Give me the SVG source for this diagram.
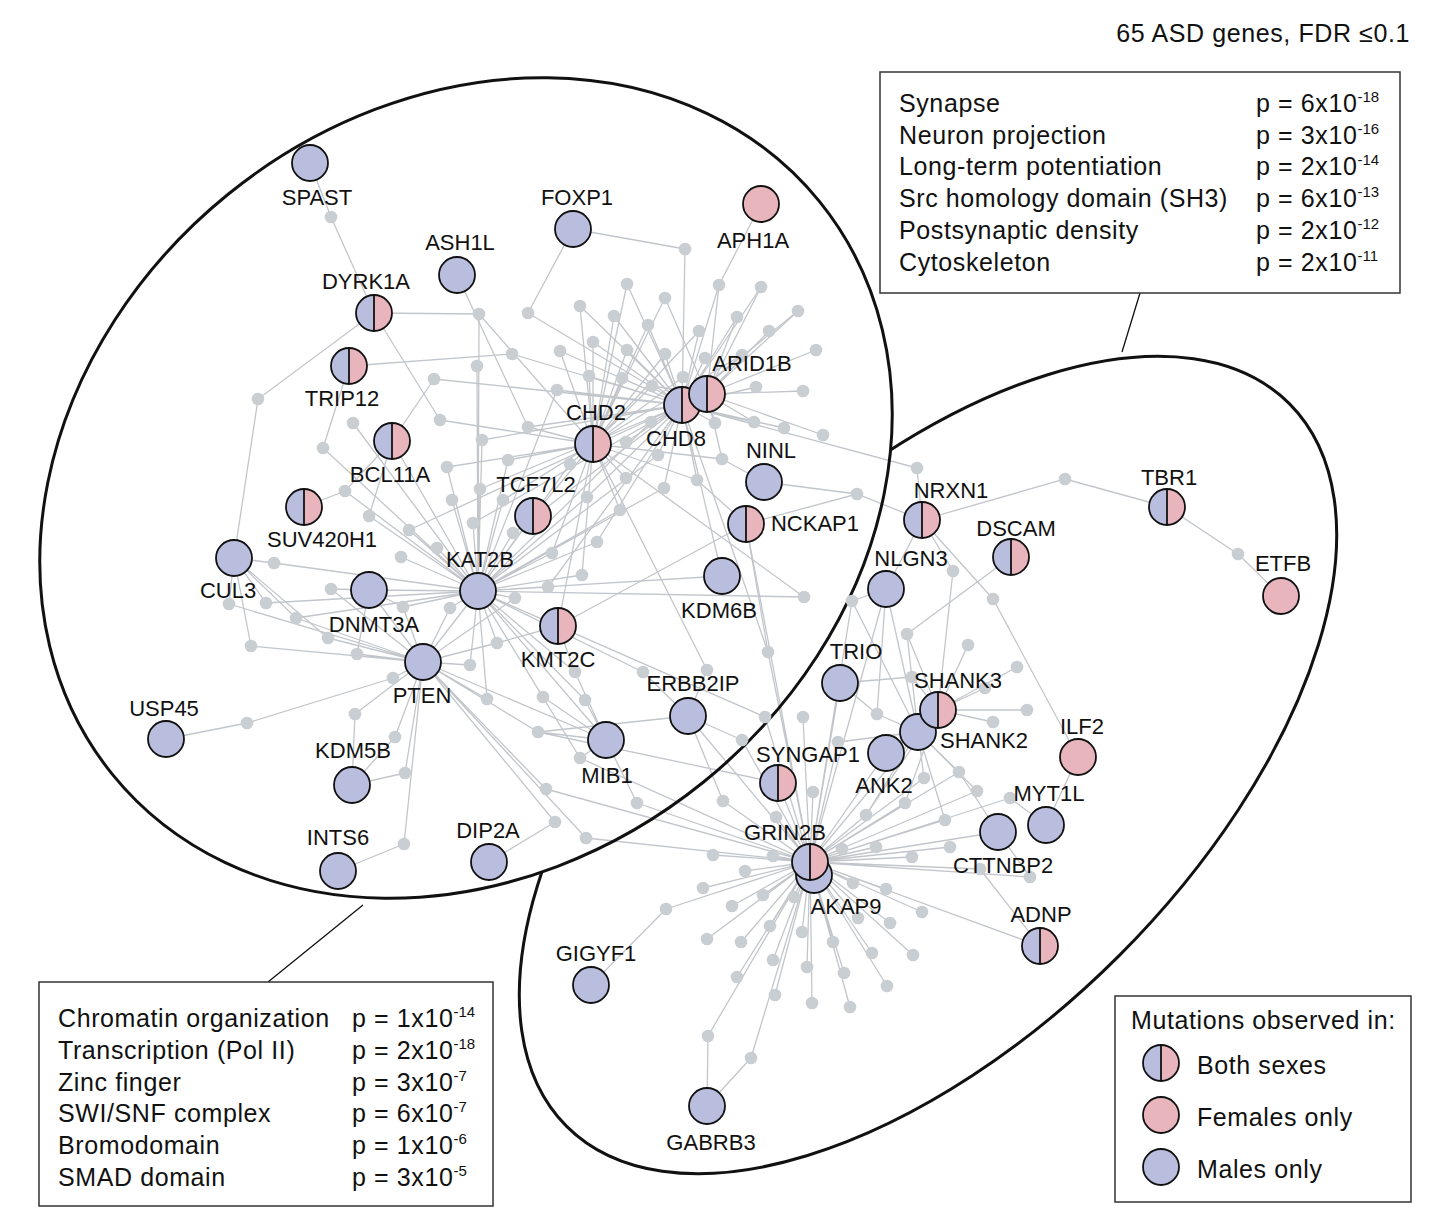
<svg xmlns="http://www.w3.org/2000/svg" xmlns:xlink="http://www.w3.org/1999/xlink" width="1432" height="1212" viewBox="0 0 1432 1212">
<style>
.e{fill:none;stroke:#c2c6cb;stroke-width:1.3}
.d circle{fill:#c9ced3}
.gl{font-family:"Liberation Sans",Arial,Helvetica,sans-serif;font-size:22px;fill:#111;text-anchor:middle}
.bt{font-family:"Liberation Sans",Arial,Helvetica,sans-serif;font-size:25px;letter-spacing:0.6px;fill:#111}
.sup{font-size:15px;letter-spacing:0px}
.box{fill:#fff;stroke:#333;stroke-width:1.5}
.ell{fill:none;stroke:#111;stroke-width:3}
.cn{stroke:#111;stroke-width:1.3;fill:none}
</style>
<defs>
<g id="both"><path d="M0-18A18 18 0 0 0 0 18Z" fill="#b9bedf"/><path d="M0-18A18 18 0 0 1 0 18Z" fill="#e8b5bc"/><path d="M0-18V18" stroke="#111" stroke-width="1.8"/><circle r="18" fill="none" stroke="#111" stroke-width="1.8"/></g>
<circle id="male" r="18" fill="#b9bedf" stroke="#111" stroke-width="1.8"/>
<circle id="female" r="18" fill="#e8b5bc" stroke="#111" stroke-width="1.8"/>
<mask id="outsideLeft" maskUnits="userSpaceOnUse" x="0" y="0" width="1432" height="1212">
<rect x="0" y="0" width="1432" height="1212" fill="#fff"/>
<ellipse cx="466" cy="488" rx="455" ry="378" transform="rotate(-39 466 488)" fill="#000"/>
</mask>
</defs>
<rect width="1432" height="1212" fill="#fff"/>

<g id="connectors" class="e">
<path id="e-CHD8" d="M682 405L685 249M682 405L627 284M682 405L580 306M682 405L528 313M682 405L614 316M682 405L648 325M682 405L719 285M682 405L761 287M682 405L798 311M682 405L737 317M682 405L699 331M682 405L560 351M682 405L593 342M682 405L627 350M682 405L665 354M682 405L705 358M682 405L742 355M682 405L589 376M682 405L622 378M682 405L557 390M682 405L756 387M682 405L715 423M682 405L754 422M682 405L784 428M682 405L651 422M682 405L528 427M682 405L626 442M682 405L658 455M682 405L697 480M682 405L664 488M682 405L587 497M682 405L482 440M682 405L480 489M682 405L409 530M682 405L473 523M682 405L513 533M682 405L597 542M682 405L548 587M682 405L434 379M682 405L512 354M682 405L768 652M682 405L917 468M682 405L722 576"/>
<path id="e-ARID1B" d="M707 394L665 298M707 394L761 287M707 394L798 311M707 394L769 331M707 394L816 350M707 394L652 386M707 394L803 391M707 394L715 423M707 394L754 422M707 394L823 435M707 394L722 459M707 394L719 285M707 394L737 317"/>
<path id="e-CHD2" d="M593 444L627 284M593 444L665 298M593 444L580 306M593 444L614 316M593 444L648 325M593 444L699 331M593 444L560 351M593 444L593 342M593 444L627 350M593 444L665 354M593 444L742 355M593 444L589 376M593 444L622 378M593 444L683 377M593 444L652 386M593 444L528 427M593 444L722 459M593 444L697 480M593 444L626 478M593 444L620 510M593 444L570 464M593 444L479 314M593 444L440 420M593 444L447 467M593 444L508 460M593 444L503 500M593 444L552 553M593 444L582 575M593 444L707 670M593 444L804 597M593 444L533 516M593 444L558 626"/>
<path id="e-KAT2B" d="M478 591L557 390M478 591L651 422M478 591L658 455M478 591L664 488M478 591L587 497M478 591L620 510M478 591L570 464M478 591L479 314M478 591L477 366M478 591L353 423M478 591L323 448M478 591L482 440M478 591L447 467M478 591L508 460M478 591L480 489M478 591L452 500M478 591L345 491M478 591L369 516M478 591L409 530M478 591L437 548M478 591L473 523M478 591L401 557M478 591L274 563M478 591L503 500M478 591L513 533M478 591L552 553M478 591L582 575M478 591L597 542M478 591L548 587M478 591L515 598M478 591L450 608M478 591L403 607M478 591L266 603M478 591L296 618M478 591L497 643M478 591L470 665M478 591L575 672M478 591L643 672M478 591L487 699M478 591L543 697M478 591L585 700M478 591L580 758M478 591L765 717M478 591L804 597M478 591L533 516M478 591L392 441M478 591L722 576M478 591L606 740M478 591L558 626M478 591L369 590"/>
<path id="e-PTEN" d="M423 662L515 598M423 662L450 608M423 662L229 604M423 662L328 638M423 662L251 646M423 662L357 654M423 662L470 665M423 662L393 678M423 662L355 714M423 662L395 737M423 662L405 773M423 662L404 844M423 662L487 699M423 662L538 732M423 662L546 789M423 662L555 822M423 662L586 838M423 662L331 589M423 662L296 618M423 662L403 607M423 662L497 643M423 662L606 740M423 662L369 590M423 662L478 591"/>
<path id="e-GRIN2B" d="M810 862L768 652M810 862L580 758M810 862L742 740M810 862L765 717M810 862L803 717M810 862L546 789M810 862L637 803M810 862L723 801M810 862L586 838M810 862L713 855M810 862L773 856M810 862L745 871M810 862L852 601M810 862L838 742M810 862L924 778M810 862L905 803M810 862L1010 798M810 862L945 820M810 862L950 847M810 862L912 857M810 862L980 869M810 862L1030 877M810 862L866 815M810 862L813 792M810 862L776 817M810 862L842 849M810 862L876 847M810 862L703 888M810 862L666 909M810 862L732 906M810 862L763 895M810 862L794 897M810 862L853 883M810 862L886 889M810 862L922 912M810 862L858 918M810 862L890 923M810 862L770 926M810 862L802 932M810 862L833 942M810 862L707 939M810 862L741 942M810 862L872 953M810 862L913 955M810 862L773 960M810 862L737 977M810 862L807 967M810 862L844 973M810 862L887 986M810 862L775 995M810 862L812 1003M810 862L850 1007M810 862L708 1036M810 862L751 1058M810 862L959 772M810 862L977 791M810 862L840 683M810 862L886 753M810 862L778 783M810 862L746 524M810 862L998 832M810 862L1040 946M810 862L688 716M810 862L886 589M810 862L918 732"/>
<path id="e-SHANK" d="M938 710L953 571M938 710L968 645M938 710L1017 667M938 710L985 688M938 710L912 677M938 710L993 722M938 710L1027 710M938 710L905 803M938 710L866 815M938 710L907 634M938 710L886 753M918 732L907 634M918 732L877 714M918 732L959 772M918 732L977 791M918 732L924 778M918 732L945 820M918 732L866 815M918 732L838 742M918 732L886 589M918 732L852 601"/>
<path id="e-other" d="M310 163L331 217L374 313M573 229L685 249M573 229L528 313M761 204L719 285M457 275L528 427M374 313L479 314M374 313L440 420M374 313L258 399L234 558M349 366L512 354M349 366L323 448M392 441L434 379M392 441L345 491L304 507M392 441L369 516M234 558L274 563M234 558L266 603M234 558L229 604M234 558L251 646M234 558L296 618M234 558L328 638M369 590L331 589M369 590L403 607M369 590L357 654M166 739L247 723L393 678M352 785L355 714M352 785L405 773M352 785L395 737M338 871L404 844M489 862L555 822M606 740L575 672M606 740L543 697M606 740L585 700M606 740L538 732M606 740L637 803M606 740L580 758M688 716L643 672M688 716L707 670M688 716L742 740M688 716L723 801M688 716L538 732M558 626L746 524M558 626L497 643M558 626L575 672M746 524L857 494L922 520M746 524L697 480M746 524L768 652M764 482L722 459M764 482L857 494M922 520L917 468M922 520L1065 479L1167 507M1167 507L1238 554L1281 596M922 520L953 571M922 520L993 599L1078 757M922 520L886 589M1011 557L907 634M886 589L852 601M886 589L877 714M840 683L912 677M840 683L877 714M778 783L538 732M1078 757L1046 825M1046 825L1010 798M998 832L959 772M998 832L1030 877M1040 946L980 869M591 985L666 909M707 1106L708 1036M707 1106L751 1058"/>
</g>

<g id="regions">
<ellipse class="ell" cx="466" cy="488" rx="455" ry="378" transform="rotate(-39 466 488)"/>
<g mask="url(#outsideLeft)"><ellipse class="ell" cx="928" cy="765" rx="511" ry="270" transform="rotate(-45 928 765)"/></g>
<path class="cn" d="M1140 293L1122 352M268 982L363 905"/>
</g>

<g id="interactors" class="d">
<circle cx="331" cy="217" r="6.3"/><circle cx="685" cy="249" r="6.3"/><circle cx="627" cy="284" r="6.3"/><circle cx="665" cy="298" r="6.3"/><circle cx="580" cy="306" r="6.3"/><circle cx="528" cy="313" r="6.3"/><circle cx="614" cy="316" r="6.3"/><circle cx="648" cy="325" r="6.3"/><circle cx="719" cy="285" r="6.3"/><circle cx="761" cy="287" r="6.3"/><circle cx="798" cy="311" r="6.3"/><circle cx="737" cy="317" r="6.3"/><circle cx="699" cy="331" r="6.3"/><circle cx="769" cy="331" r="6.3"/><circle cx="816" cy="350" r="6.3"/><circle cx="560" cy="351" r="6.3"/><circle cx="593" cy="342" r="6.3"/><circle cx="627" cy="350" r="6.3"/><circle cx="665" cy="354" r="6.3"/><circle cx="705" cy="358" r="6.3"/><circle cx="742" cy="355" r="6.3"/><circle cx="589" cy="376" r="6.3"/><circle cx="622" cy="378" r="6.3"/><circle cx="683" cy="377" r="6.3"/><circle cx="652" cy="386" r="6.3"/><circle cx="557" cy="390" r="6.3"/><circle cx="756" cy="387" r="6.3"/><circle cx="803" cy="391" r="6.3"/><circle cx="715" cy="423" r="6.3"/><circle cx="754" cy="422" r="6.3"/><circle cx="784" cy="428" r="6.3"/><circle cx="823" cy="435" r="6.3"/><circle cx="651" cy="422" r="6.3"/><circle cx="528" cy="427" r="6.3"/><circle cx="626" cy="442" r="6.3"/><circle cx="658" cy="455" r="6.3"/><circle cx="722" cy="459" r="6.3"/><circle cx="697" cy="480" r="6.3"/><circle cx="626" cy="478" r="6.3"/><circle cx="664" cy="488" r="6.3"/><circle cx="587" cy="497" r="6.3"/><circle cx="620" cy="510" r="6.3"/><circle cx="570" cy="464" r="6.3"/>
<circle cx="479" cy="314" r="6.3"/><circle cx="512" cy="354" r="6.3"/><circle cx="477" cy="366" r="6.3"/><circle cx="434" cy="379" r="6.3"/><circle cx="440" cy="420" r="6.3"/><circle cx="353" cy="423" r="6.3"/><circle cx="323" cy="448" r="6.3"/><circle cx="258" cy="399" r="6.3"/><circle cx="482" cy="440" r="6.3"/><circle cx="447" cy="467" r="6.3"/><circle cx="508" cy="460" r="6.3"/><circle cx="480" cy="489" r="6.3"/><circle cx="452" cy="500" r="6.3"/><circle cx="345" cy="491" r="6.3"/><circle cx="369" cy="516" r="6.3"/><circle cx="409" cy="530" r="6.3"/><circle cx="437" cy="548" r="6.3"/><circle cx="473" cy="523" r="6.3"/><circle cx="401" cy="557" r="6.3"/><circle cx="274" cy="563" r="6.3"/><circle cx="503" cy="500" r="6.3"/><circle cx="513" cy="533" r="6.3"/><circle cx="552" cy="553" r="6.3"/><circle cx="582" cy="575" r="6.3"/><circle cx="597" cy="542" r="6.3"/><circle cx="548" cy="587" r="6.3"/><circle cx="515" cy="598" r="6.3"/><circle cx="450" cy="608" r="6.3"/><circle cx="403" cy="607" r="6.3"/><circle cx="331" cy="589" r="6.3"/><circle cx="229" cy="604" r="6.3"/><circle cx="266" cy="603" r="6.3"/><circle cx="296" cy="618" r="6.3"/><circle cx="328" cy="638" r="6.3"/><circle cx="251" cy="646" r="6.3"/><circle cx="357" cy="654" r="6.3"/><circle cx="470" cy="665" r="6.3"/><circle cx="393" cy="678" r="6.3"/><circle cx="247" cy="723" r="6.3"/><circle cx="355" cy="714" r="6.3"/><circle cx="395" cy="737" r="6.3"/><circle cx="405" cy="773" r="6.3"/><circle cx="404" cy="844" r="6.3"/><circle cx="497" cy="643" r="6.3"/><circle cx="575" cy="672" r="6.3"/><circle cx="643" cy="672" r="6.3"/><circle cx="707" cy="670" r="6.3"/><circle cx="768" cy="652" r="6.3"/><circle cx="487" cy="699" r="6.3"/><circle cx="543" cy="697" r="6.3"/><circle cx="585" cy="700" r="6.3"/><circle cx="538" cy="732" r="6.3"/><circle cx="580" cy="758" r="6.3"/><circle cx="742" cy="740" r="6.3"/><circle cx="765" cy="717" r="6.3"/><circle cx="803" cy="717" r="6.3"/><circle cx="546" cy="789" r="6.3"/><circle cx="637" cy="803" r="6.3"/><circle cx="723" cy="801" r="6.3"/><circle cx="555" cy="822" r="6.3"/><circle cx="586" cy="838" r="6.3"/><circle cx="713" cy="855" r="6.3"/><circle cx="773" cy="856" r="6.3"/><circle cx="745" cy="871" r="6.3"/><circle cx="804" cy="597" r="6.3"/>
<circle cx="917" cy="468" r="6.3"/><circle cx="857" cy="494" r="6.3"/><circle cx="1065" cy="479" r="6.3"/><circle cx="1238" cy="554" r="6.3"/><circle cx="953" cy="571" r="6.3"/><circle cx="993" cy="599" r="6.3"/><circle cx="852" cy="601" r="6.3"/><circle cx="907" cy="634" r="6.3"/><circle cx="968" cy="645" r="6.3"/><circle cx="1017" cy="667" r="6.3"/><circle cx="985" cy="688" r="6.3"/><circle cx="912" cy="677" r="6.3"/><circle cx="877" cy="714" r="6.3"/><circle cx="993" cy="722" r="6.3"/><circle cx="1027" cy="710" r="6.3"/><circle cx="838" cy="742" r="6.3"/><circle cx="959" cy="772" r="6.3"/><circle cx="977" cy="791" r="6.3"/><circle cx="924" cy="778" r="6.3"/><circle cx="905" cy="803" r="6.3"/><circle cx="1010" cy="798" r="6.3"/><circle cx="945" cy="820" r="6.3"/><circle cx="950" cy="847" r="6.3"/><circle cx="912" cy="857" r="6.3"/><circle cx="980" cy="869" r="6.3"/><circle cx="1030" cy="877" r="6.3"/><circle cx="866" cy="815" r="6.3"/><circle cx="813" cy="792" r="6.3"/><circle cx="776" cy="817" r="6.3"/>
<circle cx="842" cy="849" r="6.3"/><circle cx="876" cy="847" r="6.3"/><circle cx="703" cy="888" r="6.3"/><circle cx="666" cy="909" r="6.3"/><circle cx="732" cy="906" r="6.3"/><circle cx="763" cy="895" r="6.3"/><circle cx="794" cy="897" r="6.3"/><circle cx="853" cy="883" r="6.3"/><circle cx="886" cy="889" r="6.3"/><circle cx="922" cy="912" r="6.3"/><circle cx="858" cy="918" r="6.3"/><circle cx="890" cy="923" r="6.3"/><circle cx="770" cy="926" r="6.3"/><circle cx="802" cy="932" r="6.3"/><circle cx="833" cy="942" r="6.3"/><circle cx="707" cy="939" r="6.3"/><circle cx="741" cy="942" r="6.3"/><circle cx="872" cy="953" r="6.3"/><circle cx="913" cy="955" r="6.3"/><circle cx="773" cy="960" r="6.3"/><circle cx="737" cy="977" r="6.3"/><circle cx="807" cy="967" r="6.3"/><circle cx="844" cy="973" r="6.3"/><circle cx="887" cy="986" r="6.3"/><circle cx="775" cy="995" r="6.3"/><circle cx="812" cy="1003" r="6.3"/><circle cx="850" cy="1007" r="6.3"/><circle cx="708" cy="1036" r="6.3"/><circle cx="751" cy="1058" r="6.3"/>
</g>

<g id="genes">
<g id="SPAST"><use href="#male" x="310" y="163"/><text class="gl" x="317" y="205">SPAST</text></g>
<g id="FOXP1"><use href="#male" x="573" y="229"/><text class="gl" x="577" y="205">FOXP1</text></g>
<g id="APH1A"><use href="#female" x="761" y="204"/><text class="gl" x="753" y="248">APH1A</text></g>
<g id="ASH1L"><use href="#male" x="457" y="275"/><text class="gl" x="460" y="250">ASH1L</text></g>
<g id="DYRK1A"><use href="#both" x="374" y="313"/><text class="gl" x="366" y="289">DYRK1A</text></g>
<g id="TRIP12"><use href="#both" x="349" y="366"/><text class="gl" x="342" y="406">TRIP12</text></g>
<g id="CHD8"><use href="#both" x="682" y="405"/><text class="gl" x="676" y="446">CHD8</text></g>
<g id="ARID1B"><use href="#both" x="707" y="394"/><text class="gl" x="752" y="371">ARID1B</text></g>
<g id="CHD2"><use href="#both" x="593" y="444"/><text class="gl" x="596" y="420">CHD2</text></g>
<g id="BCL11A"><use href="#both" x="392" y="441"/><text class="gl" x="390" y="482">BCL11A</text></g>
<g id="NINL"><use href="#male" x="764" y="482"/><text class="gl" x="771" y="458">NINL</text></g>
<g id="SUV420H1"><use href="#both" x="304" y="507"/><text class="gl" x="322" y="547">SUV420H1</text></g>
<g id="TCF7L2"><use href="#both" x="533" y="516"/><text class="gl" x="536" y="492">TCF7L2</text></g>
<g id="NCKAP1"><use href="#both" x="746" y="524"/><text class="gl" x="815" y="531">NCKAP1</text></g>
<g id="NRXN1"><use href="#both" x="922" y="520"/><text class="gl" x="951" y="498">NRXN1</text></g>
<g id="TBR1"><use href="#both" x="1167" y="507"/><text class="gl" x="1169" y="485">TBR1</text></g>
<g id="DSCAM"><use href="#both" x="1011" y="557"/><text class="gl" x="1016" y="536">DSCAM</text></g>
<g id="ETFB"><use href="#female" x="1281" y="596"/><text class="gl" x="1283" y="571">ETFB</text></g>
<g id="CUL3"><use href="#male" x="234" y="558"/><text class="gl" x="228" y="598">CUL3</text></g>
<g id="KAT2B"><use href="#male" x="478" y="591"/><text class="gl" x="480" y="567">KAT2B</text></g>
<g id="NLGN3"><use href="#male" x="886" y="589"/><text class="gl" x="911" y="566">NLGN3</text></g>
<g id="DNMT3A"><use href="#male" x="369" y="590"/><text class="gl" x="374" y="632">DNMT3A</text></g>
<g id="KDM6B"><use href="#male" x="722" y="576"/><text class="gl" x="719" y="618">KDM6B</text></g>
<g id="KMT2C"><use href="#both" x="558" y="626"/><text class="gl" x="558" y="667">KMT2C</text></g>
<g id="PTEN"><use href="#male" x="423" y="662"/><text class="gl" x="422" y="703">PTEN</text></g>
<g id="TRIO"><use href="#male" x="840" y="683"/><text class="gl" x="856" y="659">TRIO</text></g>
<g id="SHANK2"><use href="#male" x="918" y="732"/><text class="gl" x="984" y="748">SHANK2</text></g>
<g id="SHANK3"><use href="#both" x="938" y="710"/><text class="gl" x="958" y="688">SHANK3</text></g>
<g id="ERBB2IP"><use href="#male" x="688" y="716"/><text class="gl" x="693" y="691">ERBB2IP</text></g>
<g id="USP45"><use href="#male" x="166" y="739"/><text class="gl" x="164" y="716">USP45</text></g>
<g id="MIB1"><use href="#male" x="606" y="740"/><text class="gl" x="607" y="783">MIB1</text></g>
<g id="ANK2"><use href="#male" x="886" y="753"/><text class="gl" x="884" y="793">ANK2</text></g>
<g id="ILF2"><use href="#female" x="1078" y="757"/><text class="gl" x="1082" y="734">ILF2</text></g>
<g id="SYNGAP1"><use href="#both" x="778" y="783"/><text class="gl" x="808" y="762">SYNGAP1</text></g>
<g id="KDM5B"><use href="#male" x="352" y="785"/><text class="gl" x="353" y="758">KDM5B</text></g>
<g id="MYT1L"><use href="#male" x="1046" y="825"/><text class="gl" x="1049" y="801">MYT1L</text></g>
<g id="CTTNBP2"><use href="#male" x="998" y="832"/><text class="gl" x="1003" y="873">CTTNBP2</text></g>
<g id="AKAP9"><use href="#male" x="814" y="875"/><text class="gl" x="846" y="914">AKAP9</text></g>
<g id="GRIN2B"><use href="#both" x="810" y="862"/><text class="gl" x="785" y="840">GRIN2B</text></g>
<g id="INTS6"><use href="#male" x="338" y="871"/><text class="gl" x="338" y="845">INTS6</text></g>
<g id="DIP2A"><use href="#male" x="489" y="862"/><text class="gl" x="488" y="838">DIP2A</text></g>
<g id="ADNP"><use href="#both" x="1040" y="946"/><text class="gl" x="1041" y="922">ADNP</text></g>
<g id="GIGYF1"><use href="#male" x="591" y="985"/><text class="gl" x="596" y="961">GIGYF1</text></g>
<g id="GABRB3"><use href="#male" x="707" y="1106"/><text class="gl" x="711" y="1150">GABRB3</text></g>
</g>

<g id="title"><text class="bt" x="1410" y="42" text-anchor="end">65 ASD genes, FDR ≤0.1</text></g>

<g id="synapse-box">
<rect class="box" x="880" y="72" width="520" height="221"/>
<text class="bt" x="899" y="112">Synapse</text>
<text class="bt" x="899" y="144">Neuron projection</text>
<text class="bt" x="899" y="175">Long-term potentiation</text>
<text class="bt" x="899" y="207">Src homology domain (SH3)</text>
<text class="bt" x="899" y="239">Postsynaptic density</text>
<text class="bt" x="899" y="271">Cytoskeleton</text>
<text class="bt" x="1256" y="112">p = 6x10<tspan class="sup" dy="-10">-18</tspan></text>
<text class="bt" x="1256" y="144">p = 3x10<tspan class="sup" dy="-10">-16</tspan></text>
<text class="bt" x="1256" y="175">p = 2x10<tspan class="sup" dy="-10">-14</tspan></text>
<text class="bt" x="1256" y="207">p = 6x10<tspan class="sup" dy="-10">-13</tspan></text>
<text class="bt" x="1256" y="239">p = 2x10<tspan class="sup" dy="-10">-12</tspan></text>
<text class="bt" x="1256" y="271">p = 2x10<tspan class="sup" dy="-10">-11</tspan></text>
</g>

<g id="chromatin-box">
<rect class="box" x="39" y="982" width="454" height="224"/>
<text class="bt" x="58" y="1027">Chromatin organization</text>
<text class="bt" x="58" y="1059">Transcription (Pol II)</text>
<text class="bt" x="58" y="1091">Zinc finger</text>
<text class="bt" x="58" y="1122">SWI/SNF complex</text>
<text class="bt" x="58" y="1154">Bromodomain</text>
<text class="bt" x="58" y="1186">SMAD domain</text>
<text class="bt" x="352" y="1027">p = 1x10<tspan class="sup" dy="-10">-14</tspan></text>
<text class="bt" x="352" y="1059">p = 2x10<tspan class="sup" dy="-10">-18</tspan></text>
<text class="bt" x="352" y="1091">p = 3x10<tspan class="sup" dy="-10">-7</tspan></text>
<text class="bt" x="352" y="1122">p = 6x10<tspan class="sup" dy="-10">-7</tspan></text>
<text class="bt" x="352" y="1154">p = 1x10<tspan class="sup" dy="-10">-6</tspan></text>
<text class="bt" x="352" y="1186">p = 3x10<tspan class="sup" dy="-10">-5</tspan></text>
</g>

<g id="legend">
<rect class="box" x="1115" y="996" width="296" height="206"/>
<text class="bt" x="1131" y="1029">Mutations observed in:</text>
<use href="#both" x="1161" y="1063"/>
<text class="bt" x="1197" y="1074">Both sexes</text>
<use href="#female" x="1161" y="1115"/>
<text class="bt" x="1197" y="1126">Females only</text>
<use href="#male" x="1161" y="1167"/>
<text class="bt" x="1197" y="1178">Males only</text>
</g>
</svg>
